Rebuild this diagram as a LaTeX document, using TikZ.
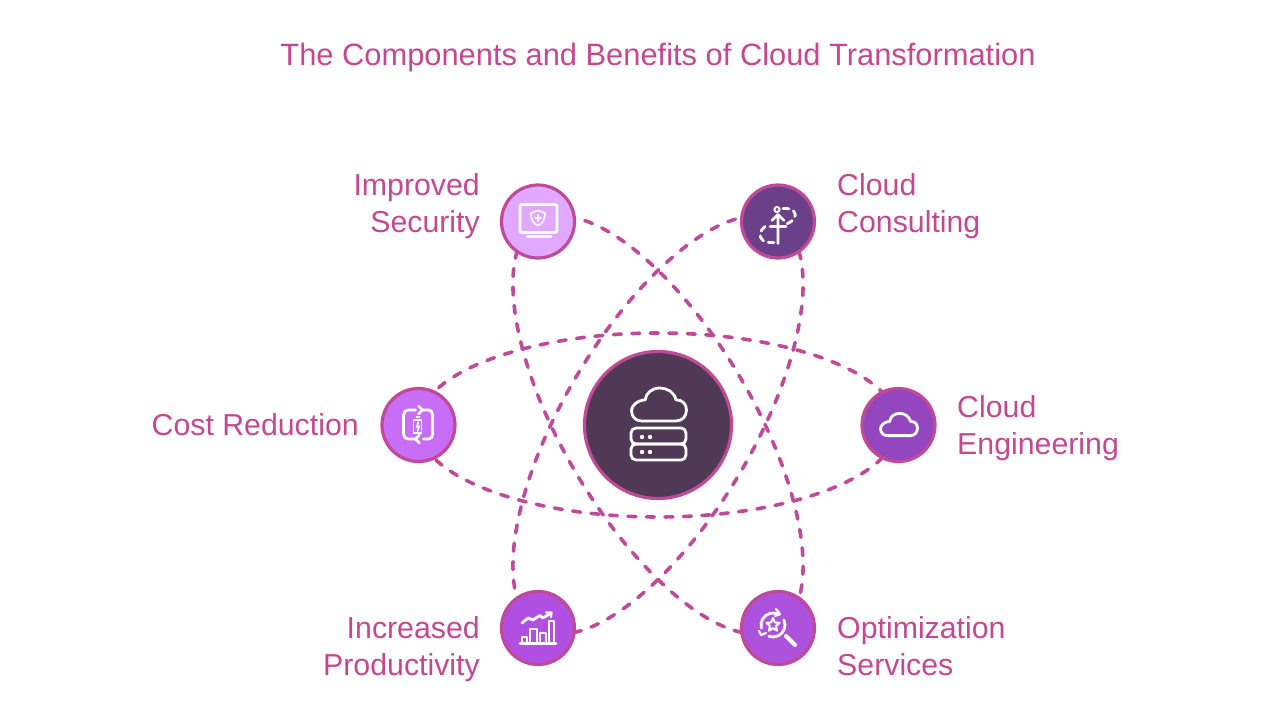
\documentclass[tikz,border=0pt]{standalone}
\usepackage{fontspec}
\setmainfont{Liberation Sans}
\usepackage{xcolor}
\usetikzlibrary{backgrounds}
\definecolor{cfpink}{HTML}{C4488F}
\definecolor{cfrim}{HTML}{C04A98}
\definecolor{cfhub}{HTML}{4F3955}
\definecolor{cfsec}{HTML}{E1A8FF}
\definecolor{cfcons}{HTML}{6C4088}
\definecolor{cfcost}{HTML}{C86DF5}
\definecolor{cfeng}{HTML}{9446BE}
\definecolor{cfprod}{HTML}{B04FE2}
\definecolor{cfopt}{HTML}{AC52DC}
\tikzset{
  bubble/.style={circle, draw=cfrim, line width=3.2pt, minimum size=73pt, inner sep=0pt},
  lab/.style={text=cfpink, inner sep=0pt, font=\fontsize{30.3}{37}\selectfont},
  orbit/.style={draw=cfrim, line width=3.6pt, line cap=round, dash pattern=on 8pt off 10.5pt},
  icon/.style={draw=white, line width=2.8pt, line cap=round, line join=round},
  cloudicon/.pic={
    \path[pic actions] (-.62,.6) -- (.62,.6) .. controls (.85,.6) and (1,.42) .. (1,.2)
      .. controls (1,-.02) and (.85,-.17) .. (.62,-.17)
      .. controls (.55,-.45) and (.3,-.6) .. (.03,-.6)
      .. controls (-.25,-.6) and (-.48,-.42) .. (-.5,-.17)
      .. controls (-.8,-.15) and (-1,.05) .. (-1,.22)
      .. controls (-1,.45) and (-.85,.6) .. (-.62,.6) -- cycle;
  }
}
\begin{document}
\begin{tikzpicture}[x=1pt, y=-1pt]
  \useasboundingbox (0,0) rectangle (1280,720);
  % Title
  \node[lab, font=\fontsize{30.85}{37}\selectfont] (title) at (658,58) {The Components and Benefits of Cloud Transformation};
  % Hub and six bubbles
  \node[circle, draw=cfrim, line width=3.2pt, fill=cfhub, minimum size=147pt, inner sep=0pt] (hub) at (658,425) {};
  \node[bubble, fill=cfsec] (sec) at (538,221.5) {};
  \node[bubble, fill=cfcons] (cons) at (778,221.5) {};
  \node[bubble, fill=cfcost] (cost) at (418.5,425) {};
  \node[bubble, fill=cfeng] (eng) at (898.5,425) {};
  \node[bubble, fill=cfprod] (prod) at (538,628) {};
  \node[bubble, fill=cfopt] (opt) at (778,628) {};
  % Labels
  \node[lab, anchor=east, align=right] (seclab) at (480,206.5) {Improved\\Security};
  \node[lab, anchor=west, align=left] (conslab) at (837,206.5) {Cloud\\Consulting};
  \node[lab, anchor=east] (costlab) at (359,425) {Cost Reduction};
  \node[lab, anchor=west, align=left] (englab) at (957,428) {Cloud\\Engineering};
  \node[lab, anchor=east, align=right] (prodlab) at (480,649.5) {Increased\\Productivity};
  \node[lab, anchor=west, align=left] (optlab) at (837,646.5) {Optimization\\Services};
  % Orbits behind everything
  \begin{scope}[on background layer]
    \draw[orbit] (hub.center) ellipse [x radius=240, y radius=92];
    \draw[orbit, rotate around={-59.5:(hub.center)}] (hub.center) ellipse [x radius=236, y radius=95];
    \draw[orbit, rotate around={59.5:(hub.center)}] (hub.center) ellipse [x radius=236, y radius=95];
  \end{scope}
  % Hub icon
  \begin{scope}[shift={(hub.center)}]
    \pic[icon, scale=27.5] at (1,-20.5) {cloudicon};
    \draw[icon, rounded corners=5pt] (-27,3) rectangle (28,19);
    \draw[icon, rounded corners=5pt] (-27,19) rectangle (28,35);
    \foreach \dotx in {-16,-8} {
      \fill[white] (\dotx,12) circle (2.2pt);
      \fill[white] (\dotx,27) circle (2.2pt);
    }
  \end{scope}
  % Improved Security icon
  \begin{scope}[shift={(sec.center)}]
    \draw[icon, rounded corners=2pt] (-18,-17) rectangle (19,11);
    \draw[icon] (-11,15) -- (13,15);
    \draw[icon, line width=1.6pt] (0,-11) -- (7,-8.5) .. controls (7,-2) and (5,2) .. (0,4) .. controls (-5,2) and (-7,-2) .. (-7,-8.5) -- cycle;
    \draw[icon, line width=2pt] (-3,-3.5) -- (3,-3.5) (0,-6.5) -- (0,-0.5);
  \end{scope}
  % Cloud Consulting icon
  \begin{scope}[shift={(cons.center)}]
    \draw[icon, line width=2pt] (-1,-12) circle (2.6pt);
    \draw[icon] (0,-7) -- (0,22) (-6,-1) -- (0,-7) -- (6,-1) (-8,5) -- (8,5);
    \draw[icon, dash pattern=on 6pt off 5pt] (5,-13) .. controls (15,-14) and (20,-8) .. (16,-3) .. controls (14,0) and (10,2) .. (7,3);
    \draw[icon, dash pattern=on 6pt off 5pt] (-13,5) .. controls (-18,9) and (-20,15) .. (-15,19) .. controls (-12,21) and (-9,21) .. (-4,21);
  \end{scope}
  % Cost Reduction icon
  \begin{scope}[shift={(cost.center)}]
    \draw[icon] (-3,-15) -- (-10,-15) .. controls (-13,-15) and (-15,-13) .. (-15,-10) -- (-15,9) .. controls (-15,12) and (-13,14) .. (-10,14) -- (-2,14);
    \draw[icon] (5,-15) -- (10,-15) .. controls (13,-15) and (14,-13) .. (14,-10) -- (14,9) .. controls (14,12) and (13,14) .. (10,14) -- (5,14);
    \draw[icon] (0,-19) -- (4,-15) -- (0,-11);
    \draw[icon] (1,10) -- (-3,14) -- (1,18);
    \draw[icon, line width=1.8pt] (-5,-5) -- (3,-5) -- (3,8) -- (-5,8) -- cycle (-2,-8) -- (1,-8);
    \draw[icon, line width=1.6pt] (0,-3) -- (-2,2) -- (1,1) -- (-1,6);
  \end{scope}
  % Cloud Engineering icon
  \begin{scope}[shift={(eng.center)}]
    \pic[icon, scale=18.5] at (0.5,-0.5) {cloudicon};
  \end{scope}
  % Increased Productivity icon
  \begin{scope}[shift={(prod.center)}]
    \draw[icon] (-18,15.5) -- (18,15.5);
    \draw[icon, line width=2.2pt] (-16,15) -- (-16,9) -- (-11,9) -- (-11,15);
    \draw[icon, line width=2.2pt] (-8,15) -- (-8,1) -- (-1,1) -- (-1,15);
    \draw[icon, line width=2.2pt] (2,15) -- (2,5) -- (8,5) -- (8,15);
    \draw[icon, line width=2.2pt] (11,15) -- (11,-7) -- (16,-7) -- (16,15);
    \draw[icon] (-16,-5) -- (-10,-10) -- (-5,-8) -- (2,-12.5) -- (5,-10) -- (13,-15);
    \draw[icon, line width=2.2pt] (8,-15.5) -- (13.5,-15.5) -- (13,-11);
  \end{scope}
  % Optimization Services icon
  \begin{scope}[shift={(opt.center)}]
    \draw[icon] (-5,-3) ++(165:12) arc [start angle=165, end angle=300, radius=12];
    \draw[icon] (-5,-3) ++(335:12) arc [start angle=335, end angle=470, radius=12];
    \draw[icon, line width=2.2pt] (-2,-19) -- (2,-14) -- (-3,-12);
    \draw[icon, line width=2.2pt] (-19,3) -- (-17,7) -- (-12,5);
    \draw[icon, line width=4pt] (8,8) -- (17,17);
    \begin{scope}[shift={(-5,-3)}]
      \draw[icon, line width=2pt] (0,-7) -- (1.88,-2.59) -- (6.66,-2.16) -- (3.04,.99) -- (4.11,5.66) -- (0,3.2)
        -- (-4.11,5.66) -- (-3.04,.99) -- (-6.66,-2.16) -- (-1.88,-2.59) -- cycle;
    \end{scope}
  \end{scope}
\end{tikzpicture}
\end{document}
